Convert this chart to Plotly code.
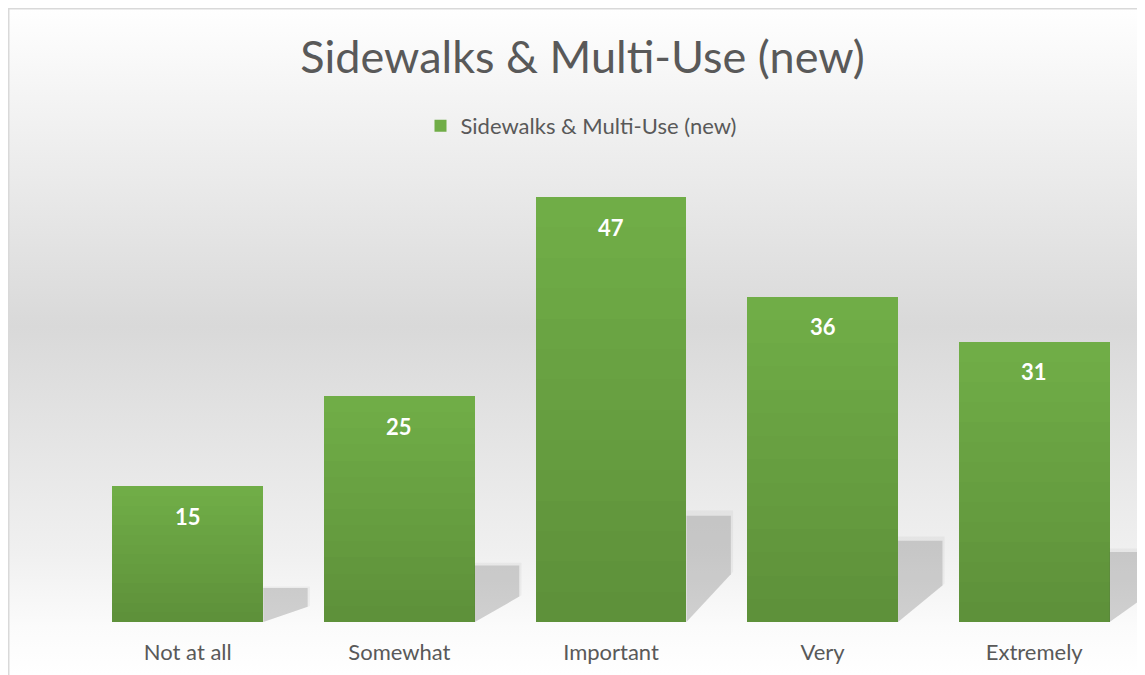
import base64
import plotly.graph_objects as go

# ---- data ----
categories = ["Not at all", "Somewhat", "Important", "Very", "Extremely"]
values = [15, 25, 47, 36, 31]
series_name = "Sidewalks & Multi-Use (new)"
title_text = "Sidewalks & Multi-Use (new)"

# ---- styling ----
FONT = "Lato"
TEXT_GREY = "#595959"
TOP_GREEN = (112, 173, 71)
BOTTOM_GREEN = (94, 145, 58)
BAR_WIDTH = 0.713
OFF = 8  # page body margin offset
W, H = 1145 - OFF, 675 - OFF
ML, MR, MT, MB = 82 - OFF, 5, 170 - OFF, 53
Y_MAX = 50

x_idx = list(range(len(categories)))
fig = go.Figure()

# soft perspective shadows to the right of each bar (derived from values)
SH_D = 0.21      # horizontal reach beyond bar edge (category units)
for scale, alpha in [(1.05, 0.05), (1.0, 0.18)]:
    for i, v in zip(x_idx, values):
        yt = 0.25 * v * scale
        ys = 0.45 * yt
        xr = i + BAR_WIDTH / 2
        fig.add_trace(go.Scatter(
            x=[xr, xr, xr + SH_D * scale, xr + SH_D * scale, xr],
            y=[0, yt, yt, ys, 0],
            fill="toself", mode="lines", line=dict(width=0),
            fillcolor=f"rgba(60,60,60,{alpha})", showlegend=False,
            hoverinfo="skip"))

# bars with vertical gradient built from overlaid, progressively shorter bars
N = 14
for k in range(N):
    f = 1 - k / N
    t = k / (N - 1)
    c = tuple(round(TOP_GREEN[j] + (BOTTOM_GREEN[j] - TOP_GREEN[j]) * t) for j in range(3))
    fig.add_trace(go.Bar(
        x=x_idx, y=[v * f for v in values], width=BAR_WIDTH,
        marker=dict(color=f"rgb{c}", line=dict(width=0)),
        name=series_name, showlegend=(k == 0), hoverinfo="skip" if k else None))

# data labels
for i, v in zip(x_idx, values):
    fig.add_annotation(x=i, y=v, text=f"<b>{v}</b>", showarrow=False,
                       yanchor="middle", yshift=-30,
                       font=dict(family=FONT, size=22, color="white"))

# background gradient + frame
svg = ('<svg xmlns="http://www.w3.org/2000/svg" width="100" height="100" '
       'viewBox="0 0 100 100" preserveAspectRatio="none">'
       '<defs><linearGradient id="g" x1="0" y1="0" x2="0" y2="1">'
       '<stop offset="0" stop-color="#ffffff"/>'
       '<stop offset="0.48" stop-color="#d9d9d9"/>'
       '<stop offset="0.82" stop-color="#f0f0f0"/>'
       '<stop offset="0.93" stop-color="#fbfbfb"/>'
       '<stop offset="1" stop-color="#ffffff"/>'
       '</linearGradient></defs>'
       '<rect width="100" height="100" fill="url(#g)"/></svg>')
uri = "data:image/svg+xml;base64," + base64.b64encode(svg.encode()).decode()
pw, ph = W - ML - MR, H - MT - MB
# target (screenshot) pixel -> paper coords
px2x = lambda px: (px - OFF - ML) / pw
px2y = lambda py: (H - MB - (py - OFF)) / ph
gx0, gx1, gy0, gy1 = px2x(6), px2x(1142), px2y(674), px2y(5)
fig.add_layout_image(source=uri, xref="paper", yref="paper", x=gx0, y=gy1,
                     sizex=gx1 - gx0, sizey=gy1 - gy0, sizing="stretch",
                     xanchor="left", yanchor="top", layer="below")
fx0, fx1, fy0, fy1 = px2x(8.75), px2x(1150), px2y(680), px2y(8.75)
fig.add_shape(type="rect", xref="paper", yref="paper", x0=fx0, x1=fx1, y0=fy0, y1=fy1,
              line=dict(color="#d9d9d9", width=1.5), layer="below")

fig.update_layout(
    width=W, height=H,
    margin=dict(l=ML, r=MR, t=MT, b=MB),
    paper_bgcolor="white", plot_bgcolor="rgba(0,0,0,0)",
    barmode="overlay", bargap=0,
    font=dict(family=FONT, color=TEXT_GREY),
    title=dict(text=title_text, x=(582.5 - OFF) / W, xref="container", xanchor="center",
               y=1 - (57 - OFF) / H, yref="container", yanchor="middle",
               font=dict(family=FONT, size=45, color=TEXT_GREY)),
    legend=dict(orientation="h", x=px2x(581), xanchor="center", y=px2y(126),
                yanchor="middle", font=dict(family=FONT, size=22, color=TEXT_GREY),
                bgcolor="rgba(0,0,0,0)", itemclick=False, itemwidth=30),
    xaxis=dict(range=[-0.5, len(categories) - 0.5], tickvals=x_idx, ticktext=categories,
               showgrid=False, zeroline=False, showline=False, ticks="",
               ticklabelstandoff=15, tickfont=dict(family=FONT, size=22, color=TEXT_GREY)),
    yaxis=dict(range=[0, Y_MAX], visible=False),
    showlegend=True,
)

fig.write_html("out.html")
